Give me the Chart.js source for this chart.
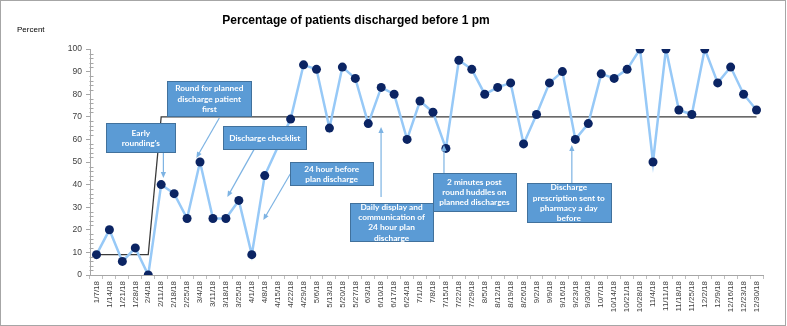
<!DOCTYPE html>
<html lang="en">
<head>
    <meta charset="UTF-8">
    <title>Percentage of patients discharged before 1 pm</title>
    <script src="https://cdn.jsdelivr.net/npm/chart.js"></script>
    <style>
        * {
            margin: 0;
            padding: 0;
            box-sizing: border-box;
        }
        body {
            background-color: #fff;
            width: 787px;
            height: 326px;
            overflow: hidden;
        }
        .wrap {
            position: relative;
            width: 787px;
            height: 326px;
        }
    </style>
</head>
<body>
    <div class="wrap"><canvas id="dischargeChart"></canvas></div>

    <script>
        const weeks = [
            '1/7/18', '1/14/18', '1/21/18', '1/28/18', '2/4/18', '2/11/18', '2/18/18', '2/25/18',
            '3/4/18', '3/11/18', '3/18/18', '3/25/18', '4/1/18', '4/8/18', '4/15/18', '4/22/18',
            '4/29/18', '5/6/18', '5/13/18', '5/20/18', '5/27/18', '6/3/18', '6/10/18', '6/17/18',
            '6/24/18', '7/1/18', '7/8/18', '7/15/18', '7/22/18', '7/29/18', '8/5/18', '8/12/18',
            '8/19/18', '8/26/18', '9/2/18', '9/9/18', '9/16/18', '9/23/18', '9/30/18', '10/7/18',
            '10/14/18', '10/21/18', '10/28/18', '11/4/18', '11/11/18', '11/18/18', '11/25/18', '12/2/18',
            '12/9/18', '12/16/18', '12/23/18', '12/30/18'
        ];

        // weekly % discharged before 1 pm (4/15 has no point)
        const percentDischarged = [
            9, 20, 6, 12, 0, 40, 36, 25,
            50, 25, 25, 33, 9, 44, null, 69,
            93, 91, 65, 92, 87, 67, 83, 80,
            60, 77, 72, 56, 95, 91, 80, 83,
            85, 58, 71, 85, 90, 60, 67, 89,
            87, 91, 100, 50, 100, 73, 71, 100,
            85, 92, 80, 73
        ];

        // median before / after the changes
        const medianBefore = 9;
        const medianAfter = 70;
        const medianLine = weeks.map((w, i) => i < 5 ? medianBefore : medianAfter);

        const yTicks = [0, 10, 20, 30, 40, 50, 60, 70, 80, 90, 100];

        const noteTexts = [
            ["Early", "rounding's"],
            ["Round for planned", "discharge patient", "first"],
            ["Discharge checklist"],
            ["24 hour before", "plan discharge"],
            ["Daily display and", "communication of", "24 hour plan", "discharge"],
            ["2 minutes post", "round huddles on", "planned discharges"],
            ["Discharge", "prescription sent to", "pharmacy a day", "before"]
        ];

        // boxes placed in data units (x = week index, y = percent), size in px
        const notes = [
            { x: 3.43, y: 67.3, w: 69, h: 29, from: [5.17, 54.4], to: [5.17, 42.9] },
            { x: 8.72, y: 85.8, w: 84, h: 35, from: [9.49, 69.5], to: [7.72, 51.8] },
            { x: 13.0, y: 65.9, w: 83, h: 23, from: [12.19, 55.7], to: [10.11, 34.5] },
            { x: 18.17, y: 50.0, w: 83, h: 23, from: [14.97, 44.7], to: [12.89, 24.3] },
            { x: 22.8, y: 31.9, w: 83, h: 38, from: [21.99, 34.5], to: [21.99, 65.5] },
            { x: 29.2, y: 45.1, w: 83, h: 38, from: [26.85, 45.1], to: [26.85, 57.5] },
            { x: 36.5, y: 40.7, w: 84, h: 39, from: [36.73, 40.7], to: [36.73, 57.5] }
        ];

        const framePlugin = {
            id: 'frame',
            beforeDraw(chart) {
                const ctx = chart.ctx;
                ctx.save();
                ctx.fillStyle = '#fff';
                ctx.fillRect(0, 0, chart.width, chart.height);
                ctx.strokeStyle = '#a6a6a6';
                ctx.lineWidth = 1;
                ctx.strokeRect(0.5, 0.5, chart.width - 2, chart.height - 1);

                ctx.fillStyle = '#000';
                ctx.textBaseline = 'middle';
                ctx.textAlign = 'center';
                ctx.font = 'bold 12px "Liberation Sans", Arial, sans-serif';
                ctx.fillText('Percentage of patients discharged before 1 pm', 356, 21);

                ctx.textAlign = 'left';
                ctx.font = '8px "Liberation Sans", Arial, sans-serif';
                ctx.fillText('Percent', 17, 30);
                ctx.restore();
            },
            afterDraw(chart) {
                // minor ticks on the y axis
                const { ctx, scales: { y } } = chart;
                ctx.save();
                ctx.strokeStyle = '#a6a6a6';
                ctx.lineWidth = 1;
                const xa = Math.round(y.right) + 0.5;
                for (let v = 0; v <= 100; v += 2) {
                    if (v % 10 === 0) continue;
                    const py = Math.round(y.getPixelForValue(v)) + 0.5;
                    ctx.beginPath();
                    ctx.moveTo(xa - 1, py);
                    ctx.lineTo(xa + 3, py);
                    ctx.stroke();
                }
                ctx.restore();
            }
        };

        function drawArrow(ctx, x1, y1, x2, y2) {
            const ang = Math.atan2(y2 - y1, x2 - x1);
            const len = 6, half = 2.6;
            ctx.beginPath();
            ctx.moveTo(x1, y1);
            ctx.lineTo(x2 - Math.cos(ang) * len * 0.8, y2 - Math.sin(ang) * len * 0.8);
            ctx.stroke();
            ctx.beginPath();
            ctx.moveTo(x2, y2);
            ctx.lineTo(x2 - Math.cos(ang) * len - Math.sin(ang) * half, y2 - Math.sin(ang) * len + Math.cos(ang) * half);
            ctx.lineTo(x2 - Math.cos(ang) * len + Math.sin(ang) * half, y2 - Math.sin(ang) * len - Math.cos(ang) * half);
            ctx.closePath();
            ctx.fill();
        }

        const notesPlugin = {
            id: 'notes',
            afterDatasetsDraw(chart) {
                const { ctx, scales: { x, y } } = chart;
                ctx.save();
                notes.forEach((n, i) => {
                    ctx.strokeStyle = '#7db3e3';
                    ctx.fillStyle = '#7db3e3';
                    ctx.lineWidth = 1.2;
                    drawArrow(ctx,
                        x.getPixelForValue(n.from[0]), y.getPixelForValue(n.from[1]),
                        x.getPixelForValue(n.to[0]), y.getPixelForValue(n.to[1]));
                });
                notes.forEach((n, i) => {
                    const cx = x.getPixelForValue(n.x);
                    const top = y.getPixelForValue(n.y);
                    const left = Math.round(cx - n.w / 2) + 0.5;
                    const t = Math.round(top) + 0.5;
                    ctx.fillStyle = '#5b9bd5';
                    ctx.fillRect(left, t, n.w, n.h);
                    ctx.strokeStyle = '#41719c';
                    ctx.lineWidth = 1;
                    ctx.strokeRect(left, t, n.w, n.h);

                    const lines = noteTexts[i];
                    const lh = 10.3;
                    const mid = t + n.h / 2;
                    ctx.fillStyle = '#fff';
                    ctx.font = 'bold 8.3px Lato, "Open Sans", sans-serif';
                    ctx.textAlign = 'center';
                    ctx.textBaseline = 'middle';
                    lines.forEach((s, k) => {
                        ctx.fillText(s, cx, mid + (k - (lines.length - 1) / 2) * lh);
                    });
                });
                ctx.restore();
            }
        };

        const ctx = document.getElementById('dischargeChart').getContext('2d');
        new Chart(ctx, {
            type: 'line',
            data: {
                labels: weeks,
                datasets: [
                    {
                        label: 'Percent',
                        data: percentDischarged,
                        borderColor: '#97c9f7',
                        borderWidth: 2.5,
                        pointRadius: 4.5,
                        pointHoverRadius: 4.5,
                        pointBackgroundColor: '#0b2463',
                        pointBorderColor: '#0b2463',
                        pointBorderWidth: 0,
                        spanGaps: true,
                        tension: 0
                    },
                    {
                        label: 'Median',
                        data: medianLine,
                        borderColor: '#3a3a3a',
                        borderWidth: 1.3,
                        pointRadius: 0,
                        tension: 0
                    }
                ]
            },
            options: {
                responsive: true,
                maintainAspectRatio: false,
                animation: false,
                layout: {
                    padding: { top: 49, right: 24, bottom: 0, left: 0 }
                },
                scales: {
                    x: {
                        offset: true,
                        grid: {
                            drawOnChartArea: false,
                            offset: true,
                            tickLength: 4,
                            color: '#bfbfbf'
                        },
                        border: { color: '#a6a6a6' },
                        ticks: {
                            autoSkip: false,
                            minRotation: 90,
                            maxRotation: 90,
                            padding: 2,
                            color: '#404040',
                            font: { size: 8, family: '"Liberation Sans", Arial, sans-serif' }
                        },
                        afterFit(scale) { scale.height = 51; }
                    },
                    y: {
                        min: yTicks[0],
                        max: yTicks[yTicks.length - 1],
                        afterBuildTicks(scale) { scale.ticks = yTicks.map(v => ({ value: v })); },
                        grid: {
                            drawOnChartArea: false,
                            tickLength: 4,
                            color: '#a6a6a6'
                        },
                        border: { color: '#a6a6a6' },
                        ticks: {
                            padding: 4,
                            color: '#404040',
                            font: { size: 8.5, family: '"Liberation Sans", Arial, sans-serif' }
                        },
                        afterFit(scale) { scale.width = 90; }
                    }
                },
                plugins: {
                    legend: { display: false },
                    tooltip: { enabled: false }
                }
            },
            plugins: [framePlugin, notesPlugin]
        });
    </script>
</body>
</html>
